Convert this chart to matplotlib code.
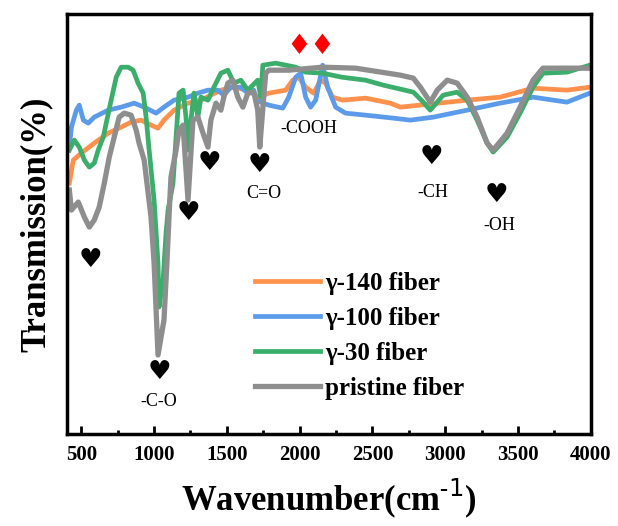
import matplotlib
matplotlib.use("Agg")
import matplotlib.pyplot as plt
from matplotlib.ticker import MultipleLocator

plt.rcParams['font.family'] = ['Liberation Serif', 'DejaVu Sans']

# valores (unidade arbitraria de transmissao)
wn_pristine = [418, 432, 479, 521, 555, 589, 623, 658, 692, 726, 760, 795, 842, 877, 897, 932,
               979, 1000, 1027, 1068, 1089, 1103, 1116, 1151, 1171, 1199, 1233, 1267, 1301, 1336,
               1370, 1390, 1425, 1459, 1479, 1507, 1541, 1575, 1610, 1644, 1685, 1712, 1726, 1753,
               1767, 1788, 1925, 2158, 2384, 2692, 2781, 2829, 2897, 2945, 3014, 3082, 3151, 3219,
               3288, 3329, 3425, 3514, 3603, 3671, 3836, 3993]
t_pristine = [244, 224, 232, 217, 207, 214, 227, 251, 277, 297, 317, 321, 319, 304, 291, 274,
              217, 171, 79, 114, 174, 219, 257, 284, 304, 309, 234, 314, 317, 301,
              287, 314, 331, 324, 337, 351, 354, 337, 327, 341, 342, 324, 287, 337,
              361, 364, 364, 367, 366, 359, 356, 347, 332, 344, 354, 351, 337, 317,
              291, 284, 301, 327, 354, 366, 366, 366]

wn_g30 = [418, 452, 486, 521, 555, 589, 616, 651, 671, 705, 740, 774, 822, 856, 890, 925, 945,
          966, 1000, 1027, 1034, 1062, 1082, 1096, 1130, 1151, 1171, 1199, 1219, 1233, 1253,
          1274, 1301, 1322, 1370, 1411, 1459, 1507, 1548, 1596, 1644, 1712, 1733, 1747, 1836,
          1973, 2041, 2158, 2288, 2452, 2575, 2781, 2849, 2897, 2986, 3082, 3151, 3219, 3288,
          3329, 3425, 3514, 3603, 3671, 3836, 3993]
t_g30 = [284, 294, 287, 274, 267, 271, 284, 297, 311, 334, 357, 367, 367, 364, 351, 341, 317,
         284, 234, 171, 127, 154, 201, 224, 251, 297, 341, 344, 317, 284, 314,
         341, 317, 337, 334, 347, 361, 364, 351, 354, 344, 354, 337, 369, 371,
         367, 362, 361, 357, 354, 349, 342, 332, 324, 339, 342, 334, 314, 291,
         282, 297, 321, 347, 361, 362, 369]

wn_g140 = [418, 445, 500, 589, 685, 774, 842, 911, 979, 1027, 1068, 1137, 1233, 1322, 1459,
           1548, 1644, 1719, 1788, 1904, 1952, 1993, 2041, 2096, 2144, 2178, 2226, 2295, 2452,
           2623, 2692, 3151, 3377, 3603, 3836, 3993]
t_g140 = [251, 274, 281, 291, 301, 307, 312, 314, 309, 306, 314, 324, 331, 334, 344,
          347, 344, 337, 341, 344, 354, 357, 347, 341, 354, 351, 337, 334, 336,
          331, 327, 334, 337, 346, 344, 347]

wn_g100 = [418, 432, 466, 486, 514, 548, 589, 685, 774, 863, 932, 1014, 1068, 1137, 1233, 1301,
           1370, 1438, 1479, 1527, 1596, 1644, 1685, 1699, 1788, 1884, 1925, 1973, 2007, 2041,
           2075, 2110, 2158, 2192, 2247, 2315, 2452, 2644, 2760, 2918, 3151, 3377, 3603, 3836,
           3993]
t_g100 = [287, 307, 324, 329, 314, 311, 317, 324, 327, 331, 327, 321, 327, 334, 337, 341,
          344, 344, 339, 347, 347, 341, 344, 334, 329, 326, 337, 357, 361, 337,
          327, 334, 369, 347, 327, 321, 319, 316, 314, 317, 324, 331, 337, 332,
          341]

labels = ['γ-140 fiber', 'γ-100 fiber', 'γ-30 fiber', 'pristine fiber']
cores = ['#FF914D', '#5B9BEA', '#3BAE6B', '#8E8E8E']

# anotacoes: (wavenumber, nivel, texto)
coracoes = [(562, 174), (1034, 62), (1233, 221), (1377, 271), (1726, 269), (2904, 277), (3349, 239)]
grupos = [(1034, 32, '-C-O'), (1753, 241, 'C=O'), (2062, 306, '-COOH'), (2918, 242, '-CH'), (3370, 209, '-OH')]
losangos = [1993, 2151]

fig = plt.figure(figsize=(6.18, 5.26), dpi=100)
ax = fig.add_axes([0.108, 0.175, 0.848, 0.798])

ax.plot(wn_g140, t_g140, color=cores[0], lw=3.4, label=labels[0])
ax.plot(wn_g100, t_g100, color=cores[1], lw=3.4, label=labels[1])
ax.plot(wn_g30, t_g30, color=cores[2], lw=3.4, label=labels[2])
ax.plot(wn_pristine, t_pristine, color=cores[3], lw=3.8, label=labels[3])

for x, y in coracoes:
    ax.text(x, y, '♥', ha='center', va='center', fontsize=19, family=['DejaVu Sans'])
for x, y, s in grupos:
    ax.text(x, y, s, ha='center', va='center', fontsize=13)
for x in losangos:
    ax.text(x, 388, '♦', ha='center', va='center', fontsize=20, color='red', family=['DejaVu Sans'])

ax.set_xlim(400, 4000)
ax.set_ylim(0, 420)
ax.xaxis.set_major_locator(MultipleLocator(500))
ax.xaxis.set_minor_locator(MultipleLocator(250))
ax.set_yticks([])
ax.tick_params(axis='x', which='major', direction='in', length=6, width=2, labelsize=15, pad=8)
ax.tick_params(axis='x', which='minor', direction='in', length=3, width=2)
for lab in ax.get_xticklabels():
    lab.set_fontweight('bold')
for sp in ax.spines.values():
    sp.set_linewidth(2.5)

ax.set_xlabel('Wavenumber(cm$^{\\mathregular{\u2010}1}$)', fontsize=25, fontweight='bold', labelpad=8)
ax.set_ylabel('Transmission(%)', fontsize=25, fontweight='bold', labelpad=10)

leg = ax.legend(loc='upper left', bbox_to_anchor=(0.34, 0.41), frameon=False,
                prop={'size': 18, 'weight': 'bold'}, handlelength=2.6, handletextpad=0.2,
                labelspacing=0.48, borderaxespad=0)

fig.savefig('out.png', dpi=100)
